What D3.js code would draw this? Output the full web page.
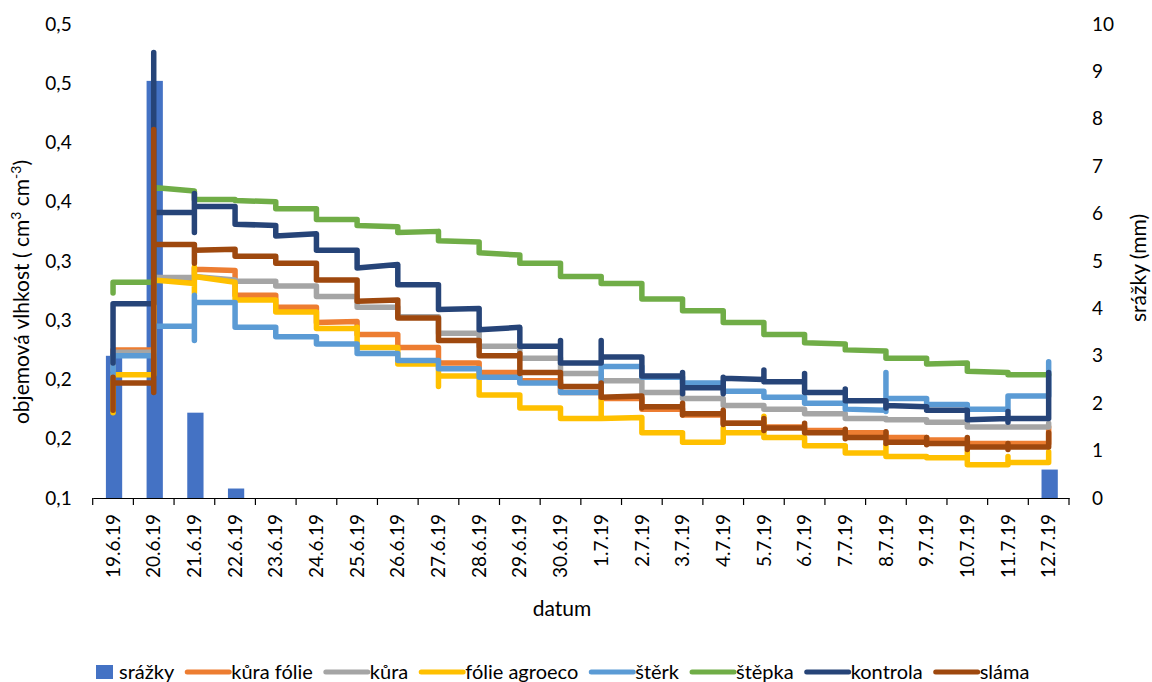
<!DOCTYPE html>
<html>
<head>
<meta charset="utf-8">
<script src="https://cdn.jsdelivr.net/npm/d3@7"></script>
<style>
  body { margin: 0; background: #fff; }
  text { font-family: Lato, "Open Sans", sans-serif; fill: #000; }
</style>
</head>
<body>
<svg id="chart" width="1152" height="682"></svg>
<script>
const dates = ['19.6.19', '20.6.19', '21.6.19', '22.6.19', '23.6.19', '24.6.19', '25.6.19', '26.6.19',
  '27.6.19', '28.6.19', '29.6.19', '30.6.19', '1.7.19', '2.7.19', '3.7.19', '4.7.19', '5.7.19',
  '6.7.19', '7.7.19', '8.7.19', '9.7.19', '10.7.19', '11.7.19', '12.7.19']

// daily rainfall (mm), right axis
const srazky = [3.0, 8.8, 1.8, 0.2, 0, 0, 0, 0, 0, 0, 0, 0, 0, 0, 0, 0, 0, 0, 0, 0, 0, 0, 0, 0.6]

// soil moisture readings per date (several readings fall on the same date)
const kuraFolie = [[.212, .225], [.225, .286], [.285, .294, .293], [.292, .271], [.271, .261], [.261, .248],
  [.249, .238], [.238, .227], [.227, .214], [.214, .206], [.206, .199], [.199, .189], [.189, .184],
  [.184, .175], [.175, .170], [.170, .163], [.163, .160], [.160, .157], [.157, .155], [.155, .151],
  [.151, .149], [.149, .146], [.146, .146], [.146, .160]]
const kura = [[.208, .223], [.223, .286], [.286, .287], [.284, .283], [.283, .279], [.279, .270],
  [.270, .261], [.261, .253], [.253, .239], [.239, .228], [.228, .218], [.218, .205], [.205, .199],
  [.199, .189], [.189, .184], [.184, .178], [.178, .175], [.175, .171], [.171, .167], [.167, .166],
  [.166, .164], [.164, .160], [.160, .160], [.160, .163]]
const folieAgroeco = [[.172, .204], [.204, .284], [.281, .295, .273, .287], [.282, .267], [.267, .257],
  [.257, .243], [.243, .244, .227], [.227, .213], [.213, .194, .203], [.203, .187], [.187, .176],
  [.176, .167], [.167, .183, .167], [.168, .155], [.155, .147], [.147, .159, .155], [.155, .169, .151],
  [.151, .144], [.144, .138], [.138, .145, .135], [.135, .134], [.134, .139, .128], [.128, .135, .130],
  [.130, .139]]
const sterk = [[.200, .220], [.220, .245], [.245, .233, .271, .265], [.265, .244], [.244, .236],
  [.236, .230], [.230, .222], [.222, .216], [.216, .209], [.209, .202], [.202, .197], [.197, .189],
  [.189, .211], [.211, .202], [.202, .197], [.197, .190], [.190, .185], [.185, .180], [.180, .175],
  [.174, .206, .173, .184], [.184, .179], [.179, .175], [.175, .186], [.186, .215]]
const stepka = [[.273, .282], [.282, .362], [.359, .352], [.352, .351], [.350, .344], [.344, .335],
  [.335, .330], [.329, .324], [.325, .317], [.316, .307], [.305, .298], [.298, .287], [.287, .281],
  [.281, .268], [.268, .258], [.258, .248], [.248, .238], [.238, .231], [.230, .225], [.224, .218],
  [.218, .213], [.214, .207], [.206, .204], [.204]]
const kontrola = [[.214, .264], [.264, .476, .341], [.341, .324, .357, .346], [.346, .331], [.330, .321],
  [.323, .309], [.309, .294], [.297, .280], [.280, .259], [.260, .242], [.244, .228], [.228, .233, .214],
  [.214, .233, .219], [.219, .203], [.203, .206, .188, .193], [.193, .188, .202, .201], [.200, .208, .198],
  [.198, .205, .189], [.189, .192, .182], [.182, .176, .178], [.177, .174], [.174, .166],
  [.167, .173, .164, .167], [.167, .206]]
const slama = [[.174, .202, .197], [.197, .189, .411, .314], [.314, .298, .309], [.310, .304], [.304, .298],
  [.298, .284], [.284, .266], [.267, .252], [.252, .233], [.233, .220], [.220, .222, .205, .206],
  [.206, .194], [.194, .197, .185], [.186, .176, .177], [.177, .180, .170, .171], [.171, .174, .162, .163],
  [.163, .167, .157, .159], [.159, .163, .155], [.155, .158, .150, .151], [.151, .156, .146, .147],
  [.147, .151, .145, .146], [.146, .151, .141, .143], [.143, .146, .141, .143], [.143, .155]]

const leftTicks = [0.1, 0.15, 0.2, 0.25, 0.3, 0.35, 0.4, 0.45, 0.5]
const leftTickLabels = ['0,1', '0,2', '0,2', '0,3', '0,3', '0,4', '0,4', '0,5', '0,5']
const rightTicks = [0, 1, 2, 3, 4, 5, 6, 7, 8, 9, 10]

const series = [
  { name: 'kůra fólie', values: kuraFolie, color: '#ED7D31' },
  { name: 'kůra', values: kura, color: '#A5A5A5' },
  { name: 'fólie agroeco', values: folieAgroeco, color: '#FFC000' },
  { name: 'štěrk', values: sterk, color: '#5B9BD5' },
  { name: 'štěpka', values: stepka, color: '#70AD47' },
  { name: 'kontrola', values: kontrola, color: '#264478' },
  { name: 'sláma', values: slama, color: '#9E480E' }
]
const barColor = '#4472C4'

const svg = d3.select('#chart')
const margin = { left: 92.7, right: 1069, top: 24, bottom: 498 }
const tickFont = 19
const labelFont = 21
const legendFont = 20

let x = d3.scaleBand().domain(dates).range([margin.left, margin.right])
let yL = d3.scaleLinear().domain([0.1, 0.5]).range([margin.bottom, margin.top])
let yR = d3.scaleLinear().domain([0, 10]).range([margin.bottom, margin.top])
const cx = d => x(d) + x.bandwidth() / 2
const barW = x.bandwidth() / 2.5

// bars (secondary axis)
svg.append('g').selectAll('rect')
  .data(dates.map((d, i) => ({ d: d, v: srazky[i] })).filter(o => o.v > 0))
  .enter().append('rect')
  .attr('x', o => cx(o.d) - barW / 2 + 1)
  .attr('y', o => yR(o.v))
  .attr('width', barW)
  .attr('height', o => yR(0) - yR(o.v))
  .attr('fill', barColor)

// lines: all readings of one date sit on the same x
let line = d3.line()
series.forEach(s => {
  let pts = []
  s.values.forEach((day, i) => {
    day.forEach(v => pts.push([cx(dates[i]), yL(v)]))
  })
  svg.append('path')
    .attr('d', line(pts))
    .attr('fill', 'none')
    .attr('stroke', s.color)
    .attr('stroke-width', 5.5)
    .attr('stroke-linecap', 'round')
    .attr('stroke-linejoin', 'round')
})

// x axis
let gx = svg.append('g').attr('transform', `translate(0,${margin.bottom})`)
  .call(d3.axisBottom(x).tickSize(0).tickSizeOuter(0))
gx.select('.domain').attr('stroke', '#000').attr('stroke-width', 1.2)
gx.selectAll('.tick text')
  .attr('transform', 'rotate(-90)')
  .attr('x', -16)
  .attr('y', 0)
  .attr('dy', '0.35em')
  .attr('text-anchor', 'end')
  .style('font-size', tickFont + 'px')
gx.selectAll('line.bt').data(d3.range(dates.length + 1)).enter().append('line')
  .attr('class', 'bt')
  .attr('x1', i => margin.left + i * x.bandwidth())
  .attr('x2', i => margin.left + i * x.bandwidth())
  .attr('y1', 0).attr('y2', 7)
  .attr('stroke', '#000').attr('stroke-width', 1.2)

// left axis
let gl = svg.append('g').attr('transform', `translate(${margin.left},0)`)
  .call(d3.axisLeft(yL).tickValues(leftTicks).tickFormat((d, i) => leftTickLabels[i]).tickSize(0).tickPadding(21))
gl.select('.domain').remove()
gl.selectAll('text').style('font-size', tickFont + 'px')

// right axis
let gr = svg.append('g').attr('transform', `translate(${margin.right},0)`)
  .call(d3.axisRight(yR).tickValues(rightTicks).tickFormat(d => d).tickSize(0).tickPadding(23))
gr.select('.domain').remove()
gr.selectAll('text').style('font-size', tickFont + 'px')

// axis titles
let lt = svg.append('text')
  .attr('transform', 'translate(29,292) rotate(-90)')
  .attr('text-anchor', 'middle')
  .style('font-size', labelFont + 'px')
lt.append('tspan').text('objemová vlhkost ( cm')
lt.append('tspan').text('3').attr('baseline-shift', 'super').style('font-size', '14px')
lt.append('tspan').text(' cm')
lt.append('tspan').text('-3').attr('baseline-shift', 'super').style('font-size', '14px')
lt.append('tspan').text(')')

svg.append('text')
  .attr('transform', 'translate(1146,268) rotate(-90)')
  .attr('text-anchor', 'middle')
  .style('font-size', labelFont + 'px')
  .text('srážky (mm)')

svg.append('text')
  .attr('x', 562).attr('y', 616)
  .attr('text-anchor', 'middle')
  .style('font-size', labelFont + 'px')
  .text('datum')

// legend
let legend = svg.append('g')
let items = [{ name: 'srážky', color: barColor, bar: true }].concat(series)
let lx = 96
const ly = 672
items.forEach(it => {
  if (it.bar) {
    legend.append('rect').attr('x', lx).attr('y', ly - 7).attr('width', 17).attr('height', 14).attr('fill', it.color)
    lx += 23
  } else {
    legend.append('line').attr('x1', lx + 2).attr('x2', lx + 44).attr('y1', ly).attr('y2', ly)
      .attr('stroke', it.color).attr('stroke-width', 5).attr('stroke-linecap', 'round')
    lx += 46
  }
  let t = legend.append('text').attr('x', lx).attr('y', ly).attr('dy', '0.35em')
    .style('font-size', legendFont + 'px').text(it.name)
  lx += t.node().getComputedTextLength() + 11
})
</script>
</body>
</html>
